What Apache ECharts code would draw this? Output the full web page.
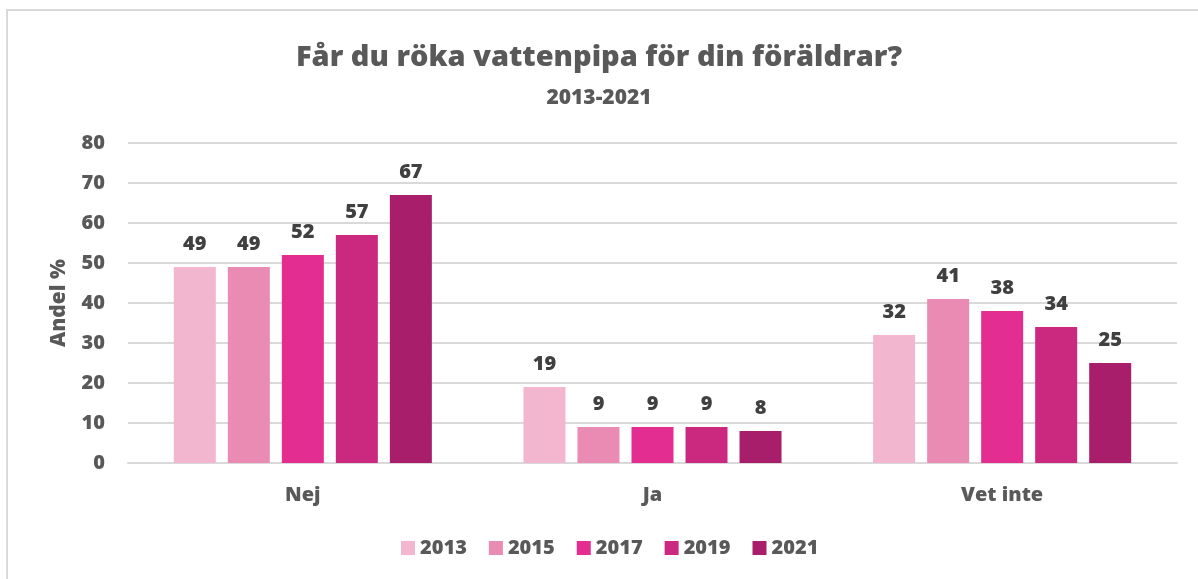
<!DOCTYPE html>
<html><head><meta charset="utf-8">
<script src="https://cdn.jsdelivr.net/npm/echarts@6/dist/echarts.min.js"></script>
<style>html,body{margin:0;padding:0;background:#fff}#c{width:1198px;height:579px}</style>
</head><body><div id="c"></div>
<script>
const categories = ['Nej', 'Ja', 'Vet inte'];
const years = ['2013', '2015', '2017', '2019', '2021'];
const v2013 = [49, 19, 32];
const v2015 = [49, 9, 41];
const v2017 = [52, 9, 38];
const v2019 = [57, 9, 34];
const v2021 = [67, 8, 25];
const yTicks = [0, 10, 20, 30, 40, 50, 60, 70, 80];
const colors = ['#F2B7CE', '#EA8BB4', '#E32D91', '#CB2880', '#A91E6A'];
const values = [v2013, v2015, v2017, v2019, v2021];
const font = '"Open Sans", sans-serif';
const W = 800;

const chart = echarts.init(document.getElementById('c'));
chart.setOption({
  animation: false,
  textStyle: {fontFamily: font},
  graphic: [{type: 'rect', shape: {x: 7, y: 10, width: 1300, height: 700}, style: {fill: 'none', stroke: '#D9D9D9', lineWidth: 2}, z: -1}],
  title: [
    {text: 'Får du röka vattenpipa för din föräldrar?', left: 'center', top: 38,
     textStyle: {fontFamily: font, fontSize: 29, fontWeight: W, color: '#595959'}},
    {text: '2013-2021', left: 'center', top: 83,
     textStyle: {fontFamily: font, fontSize: 21, fontWeight: W, color: '#595959'}}
  ],
  legend: {
    bottom: 16, left: 396, itemWidth: 14, itemHeight: 14, itemGap: 22,
    icon: 'rect',
    textStyle: {fontFamily: font, fontSize: 20, fontWeight: W, color: '#595959'},
    data: years
  },
  grid: {left: 128, right: 21, top: 143, bottom: 116, containLabel: false},
  xAxis: {
    type: 'category', data: categories,
    axisLine: {lineStyle: {color: '#D9D9D9', width: 2}},
    axisTick: {show: false},
    axisLabel: {fontFamily: font, fontSize: 20, fontWeight: W, color: '#595959', margin: 22}
  },
  yAxis: {
    type: 'value', min: 0, max: 80, interval: 10,
    name: 'Andel %', nameLocation: 'middle', nameGap: 58, nameRotate: 90,
    nameTextStyle: {fontFamily: font, fontSize: 21, fontWeight: W, color: '#595959'},
    axisLine: {show: false}, axisTick: {show: false},
    splitLine: {lineStyle: {color: '#D9D9D9', width: 2}},
    axisLabel: {fontFamily: font, fontSize: 20, fontWeight: W, color: '#595959', margin: 23,
      formatter: v => yTicks.includes(v) ? String(v) : ''}
  },
  series: years.map((y, i) => ({
    name: y, type: 'bar', data: values[i], barWidth: 42, barGap: '28.6%',
    itemStyle: {color: colors[i]},
    label: {show: true, position: 'top', distance: 13, fontFamily: font, fontSize: 20, fontWeight: W, color: '#404040'}
  }))
});
</script></body></html>
